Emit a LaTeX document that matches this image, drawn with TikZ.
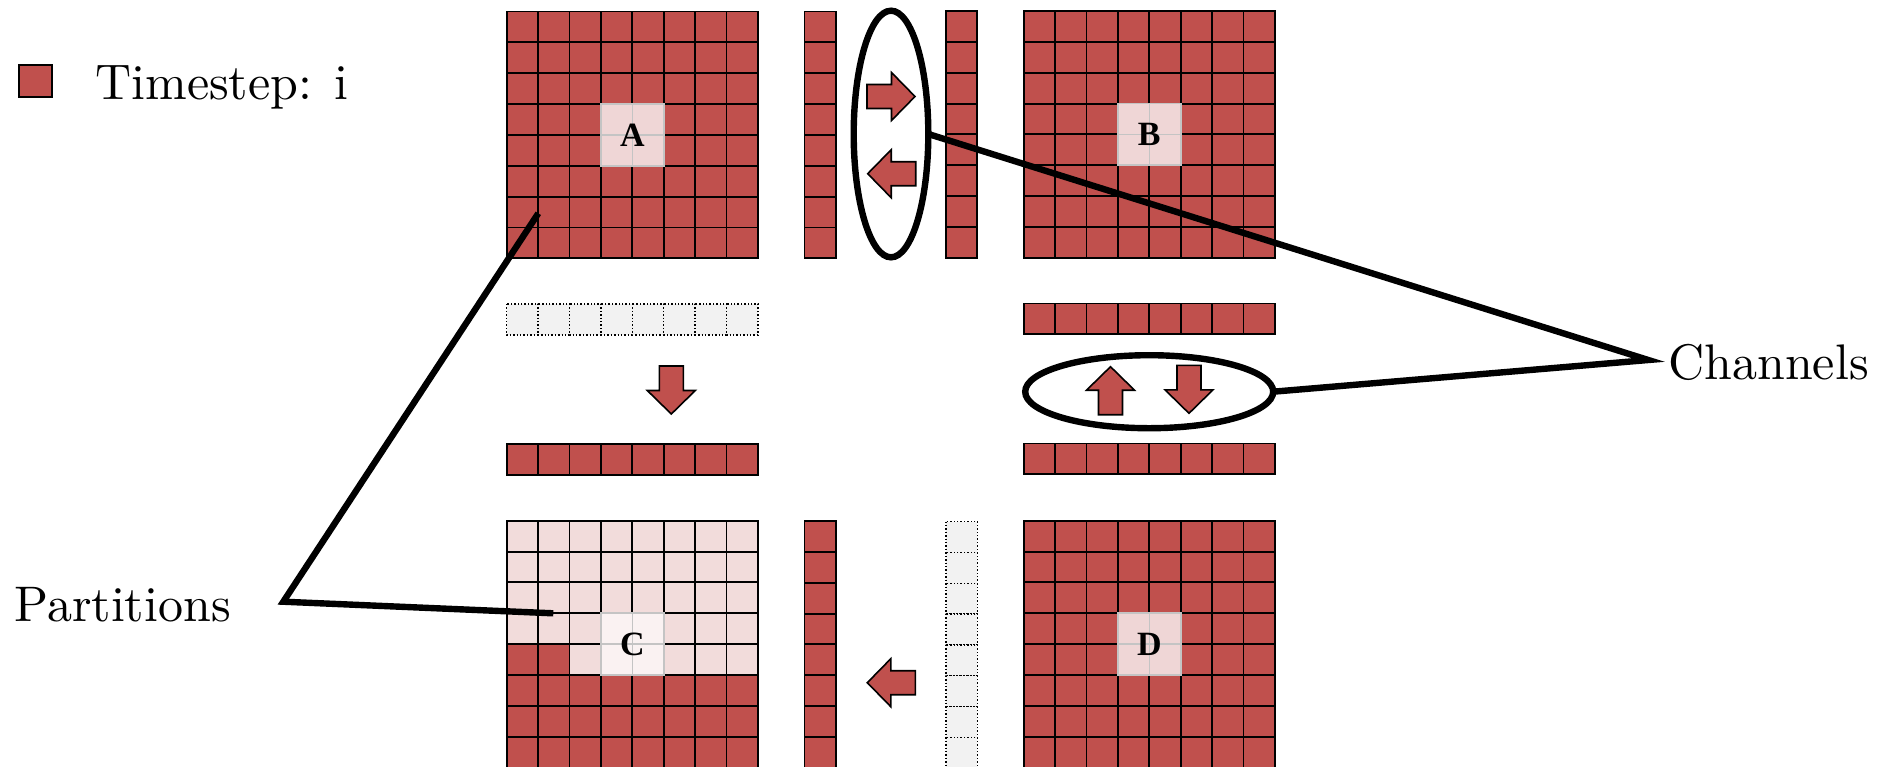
\documentclass[tikz,border=0pt]{standalone}
\usepackage{fontspec}
\usetikzlibrary{shapes.geometric}
\newfontfamily\lmten{lmroman10-regular}[Extension=.otf,BoldFont=lmroman10-bold]
\newfontfamily\labfont{Liberation Serif}
\definecolor{cred}{HTML}{C0504D}
\definecolor{cpink}{HTML}{F2DCDB}
\definecolor{cblockpink}{HTML}{EFD6D6}
\definecolor{cwhitepink}{HTML}{FAF2F2}
\definecolor{cgraycell}{HTML}{F2F2F2}
\definecolor{cblockline}{HTML}{C4C4C4}
\newcommand{\cellgrid}[5]{%
  \foreach \ci in {1,...,#3}{\foreach \cj in {1,...,#4}{%
    \draw[#5] ({#1+(\ci-1)*31.4},{#2+(\cj-1)*30.85}) rectangle +(31.4,30.85);}}}
\newcommand{\centerblock}[3]{%
  \fill[#3] ({#1+3*31.4},{#2+3*30.85}) rectangle +(62.8,61.7);
  \draw[blockln] ({#1+3*31.4},{#2+3*30.85}) rectangle +(62.8,61.7);
  \draw[blockln] ({#1+4*31.4},{#2+3*30.85}) -- +(0,61.7);
  \draw[blockln] ({#1+3*31.4},{#2+4*30.85}) -- +(62.8,0);}
\tikzset{
  cell/.style={draw=black,line width=0.95pt},
  redcell/.style={cell,fill=cred},
  pinkcell/.style={cell,fill=cpink},
  dotcell/.style={draw=black,line width=0.7pt,densely dotted,fill=cgraycell},
  blockln/.style={draw=cblockline,line width=0.8pt},
  lab/.style={font=\labfont\bfseries\fontsize{17}{20}\selectfont,inner sep=0pt},
  bigtext/.style={font=\lmten\fontsize{25}{30}\selectfont,inner sep=0pt},
  thickline/.style={line width=3.2pt,draw=black},
  arrowst/.style={draw=black,line width=0.8pt,fill=cred,line join=miter},
  barrow/.pic={\draw[arrowst] (-48,-12) -- (-23.5,-12) -- (-23.5,-24) -- (0,0) -- (-23.5,24) -- (-23.5,12) -- (-48,12) -- cycle;},
  ring/.style={ellipse,draw=black,line width=3.2pt,inner sep=0pt,outer sep=0pt}
}
\begin{document}
\begin{tikzpicture}[x=0.5pt,y=-0.5pt]
\useasboundingbox (0,0) rectangle (1895,766);
\clip (0,0) rectangle (1895,766);
% legend
\draw[redcell,line width=1pt] (19,65) rectangle (52,97);
\node[bigtext,anchor=base west] (legend) at (95,99) {Timestep: i};
% grid A
\cellgrid{506.7}{11.5}{8}{8}{redcell}
\centerblock{506.7}{11.5}{cblockpink}
\node[lab] (lblA) at ({506.7+4*31.4},{11.5+4*30.85}) {A};
% grid B
\cellgrid{1023.7}{11}{8}{8}{redcell}
\centerblock{1023.7}{11}{cblockpink}
\node[lab] (lblB) at ({1023.7+4*31.4},{11+4*30.85}) {B};
% vertical strips top
\cellgrid{804.5}{11.5}{1}{8}{redcell}
\cellgrid{946}{11}{1}{8}{redcell}
% horizontal strips
\cellgrid{506.7}{304}{8}{1}{dotcell}
\cellgrid{506.7}{444}{8}{1}{redcell}
\cellgrid{1023.7}{303.5}{8}{1}{redcell}
\cellgrid{1023.7}{443.5}{8}{1}{redcell}
% grid C
\cellgrid{506.7}{520.7}{8}{8}{redcell}
\cellgrid{506.7}{520.7}{8}{4}{pinkcell}
\cellgrid{569.5}{644.1}{6}{1}{pinkcell}
\centerblock{506.7}{520.7}{cwhitepink}
\node[lab] (lblC) at ({506.7+4*31.4},{520.7+4*30.85}) {C};
% bottom strips
\cellgrid{804.5}{521}{1}{8}{redcell}
\cellgrid{946}{521.5}{1}{8}{dotcell}
% grid D
\cellgrid{1023.7}{520.7}{8}{8}{redcell}
\centerblock{1023.7}{520.7}{cblockpink}
\node[lab] (lblD) at ({1023.7+4*31.4},{520.7+4*30.85}) {D};
% block arrows
\pic at (915,96.5) {barrow};
\pic[rotate=180] at (867.7,173.7) {barrow};
\pic[rotate=180] at (867.3,682.7) {barrow};
\pic[rotate=-90] at (671.3,414) {barrow};
\pic[rotate=90] at (1110.5,366.7) {barrow};
\pic[rotate=-90] at (1189,413.3) {barrow};
% ellipses
\node[ring,minimum width=37.3pt,minimum height=123.3pt] (vell) at (891,134) {};
\node[ring,minimum width=124pt,minimum height=36.5pt] (hell) at (1149.2,391.7) {};
% labels
\node[bigtext,anchor=base west] (channels) at (1668,379) {Channels};
\node[bigtext,anchor=base west] (partitions) at (14,621.7) {Partitions};
\coordinate (chj) at (1648.3,360);
\coordinate (pa) at (538.3,213.3);
\coordinate (pc) at (283.3,601.7);
\coordinate (pb) at (553.3,613.3);
\draw[thickline] (vell.east) -- (chj) -- (hell.east);
\draw[thickline] (pa) -- (pc) -- (pb);
\end{tikzpicture}
\end{document}
